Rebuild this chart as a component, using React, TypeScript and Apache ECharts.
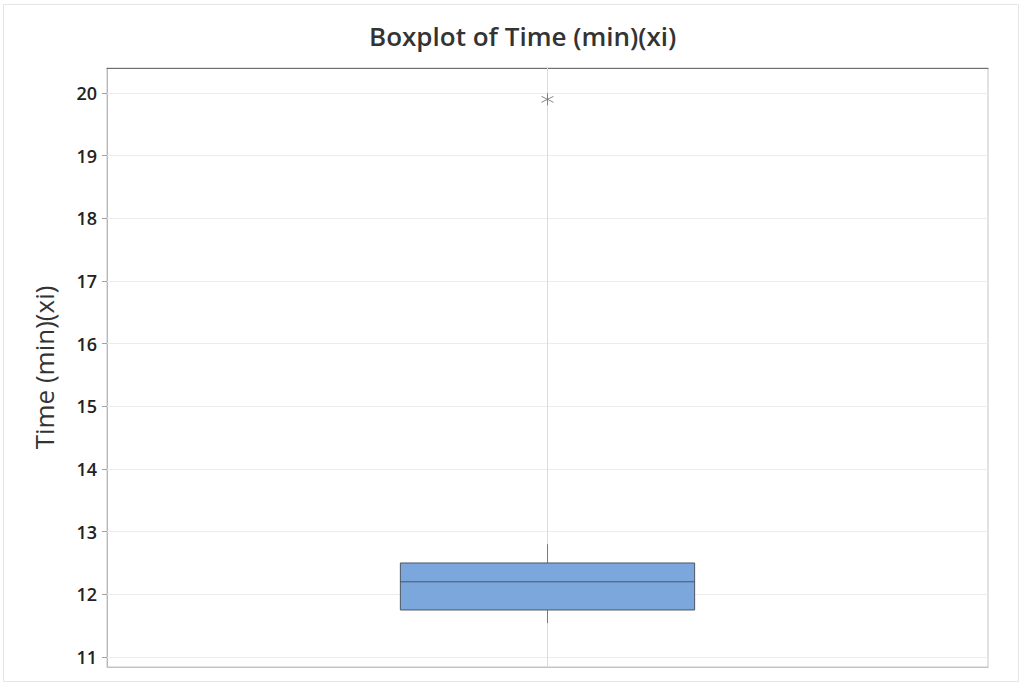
import React, { useEffect, useRef } from "react";
import * as echarts from "echarts";

const categories = ["Time (min)(xi)"];
// [index, lower whisker, Q1, median, Q3, upper whisker]
const boxStats = [[0, 11.54, 11.75, 12.2, 12.5, 12.8]];
const outliers = [[0, 19.9]];
const yTicks = [11, 12, 13, 14, 15, 16, 17, 18, 19, 20];
const yMin = 10.84;
const yMax = 20.4;

const FONT = "'Open Sans', 'Noto Sans', sans-serif";

export default function App() {
  const ref = useRef<HTMLDivElement>(null);
  useEffect(() => {
    if (!ref.current) return;
    const chart = echarts.init(ref.current, null, { renderer: "svg" });
    chart.setOption({
      animation: false,
      backgroundColor: "#ffffff",
      textStyle: { fontFamily: FONT },
      title: {
        text: "Boxplot of Time (min)(xi)",
        left: 364,
        top: 18,
        textStyle: { fontFamily: FONT, fontSize: 26, fontWeight: 600, color: "#333" },
      },
      graphic: [
        {
          type: "rect",
          shape: { x: 3.5, y: 4.5, width: 1015, height: 677 },
          style: { fill: "none", stroke: "#e6e6e6", lineWidth: 1 },
          silent: true,
          z: -10,
        },
      ],
      grid: {
        left: 107,
        right: 34,
        top: 68,
        bottom: 19,
        show: true,
        borderColor: "#c4c4c4",
        borderWidth: 1,
      },
      xAxis: [
        {
          type: "category",
          data: categories,
          boundaryGap: true,
          axisLine: { show: true, lineStyle: { color: "#c4c4c4" } },
          axisTick: { show: false },
          axisLabel: { show: false },
          splitLine: { show: false },
        },
        {
          type: "category",
          data: categories,
          position: "top",
          boundaryGap: true,
          axisLine: { show: true, lineStyle: { color: "#707070" } },
          axisTick: { show: false },
          axisLabel: { show: false },
          splitLine: { show: false },
        },
      ],
      yAxis: {
        type: "value",
        min: yMin,
        max: yMax,
        name: "Time (min)(xi)",
        nameLocation: "middle",
        nameGap: 50,
        nameTextStyle: { fontFamily: FONT, fontSize: 26, fontWeight: 500, color: "#333" },
        axisLine: { show: true, lineStyle: { color: "#b8b8b8" } },
        axisTick: {
          show: true,
          length: 5,
          customValues: yTicks,
          lineStyle: { color: "#a0a0a0" },
        },
        axisLabel: {
          customValues: yTicks,
          fontFamily: FONT,
          fontSize: 18,
          fontWeight: 600,
          color: "#222",
          margin: 10,
        },
        splitLine: { show: false },
      },
      series: [
        {
          type: "line",
          data: [],
          silent: true,
          markLine: {
            silent: true,
            symbol: ["none", "none"],
            label: { show: false },
            lineStyle: { color: "#ececec", type: "solid", width: 1 },
            data: yTicks.map((v) => ({ yAxis: v })),
          },
          z: 0,
        },
        {
          type: "scatter",
          data: [],
          silent: true,
          markLine: {
            silent: true,
            symbol: ["none", "none"],
            label: { show: false },
            lineStyle: { color: "#dcdcdc", type: "solid", width: 1 },
            data: [{ xAxis: 0 }],
          },
          z: 1,
        },
        {
          type: "custom",
          data: boxStats,
          encode: { x: 0, y: [1, 2, 3, 4, 5] },
          z: 5,
          renderItem: (params: any, api: any) => {
            const x = api.value(0);
            const lo = api.coord([x, api.value(1)]);
            const q1 = api.coord([x, api.value(2)]);
            const med = api.coord([x, api.value(3)]);
            const q3 = api.coord([x, api.value(4)]);
            const hi = api.coord([x, api.value(5)]);
            const bw = api.size([1, 0])[0] * 0.334;
            const cx = q1[0];
            const left = cx - bw / 2;
            const right = cx + bw / 2;
            const stroke = "#4c5664";
            return {
              type: "group",
              children: [
                {
                  type: "line",
                  shape: { x1: cx, y1: hi[1], x2: cx, y2: q3[1] },
                  style: { stroke: "#7a7a7a", lineWidth: 1 },
                },
                {
                  type: "line",
                  shape: { x1: cx, y1: q1[1], x2: cx, y2: lo[1] },
                  style: { stroke: "#7a7a7a", lineWidth: 1 },
                },
                {
                  type: "rect",
                  shape: { x: left, y: q3[1], width: right - left, height: q1[1] - q3[1] },
                  style: { fill: "#7ba7dc", stroke: stroke, lineWidth: 1 },
                },
                {
                  type: "line",
                  shape: { x1: left, y1: med[1], x2: right, y2: med[1] },
                  style: { stroke: stroke, lineWidth: 1 },
                },
              ],
            };
          },
        },
        {
          type: "scatter",
          data: outliers,
          symbol: "path://M10,0L10,20M1.34,5L18.66,15M1.34,15L18.66,5",
          symbolSize: 12,
          itemStyle: { color: "transparent", borderColor: "#6a6a6a", borderWidth: 1 },
          z: 6,
        },
      ],
    });
    return () => chart.dispose();
  }, []);
  return (
    <div
      ref={ref}
      style={{ position: "absolute", left: 0, top: 0, width: 1022, height: 686 }}
    />
  );
}
